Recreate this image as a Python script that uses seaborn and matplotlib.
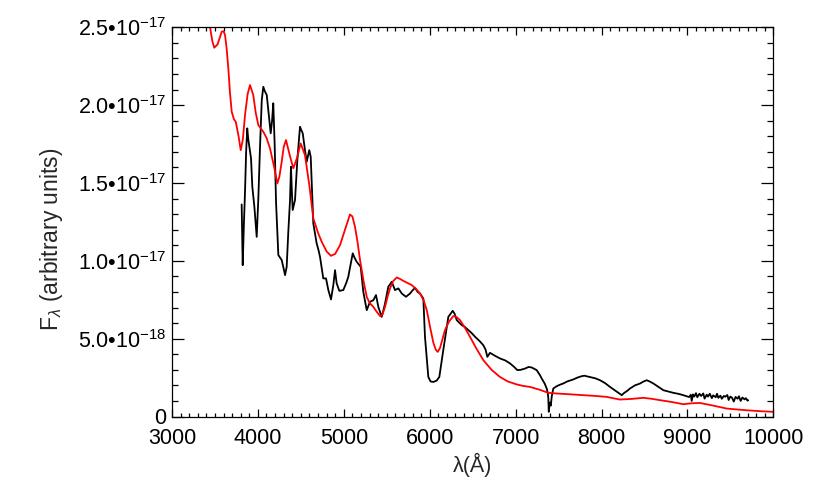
import numpy as np
import matplotlib
matplotlib.use("Agg")
import matplotlib.pyplot as plt
import seaborn as sns
from matplotlib.ticker import MultipleLocator, FixedLocator

# ---------------- data (flux in units of 1e-17) ----------------
model_wave = [3000, 3060, 3100, 3130, 3170, 3220, 3300, 3380, 3443, 3470, 3492, 3530, 3560, 3579,
              3600, 3617, 3635, 3655, 3675, 3695, 3720, 3742, 3775, 3800, 3825, 3850, 3880, 3908, 3946,
              3975, 4005, 4063, 4100, 4141, 4190, 4226, 4250, 4277, 4300, 4327, 4370, 4412, 4455, 4498,
              4548, 4600, 4645, 4700, 4743, 4800, 4851, 4900, 4956, 5020, 5072, 5100, 5130, 5160,
              5189, 5230, 5267, 5300, 5344, 5380, 5422, 5450, 5480, 5510, 5538, 5575, 5616,
              5650, 5694, 5740, 5791, 5840, 5888, 5930, 5966, 6004, 6042, 6070, 6093, 6120,
              6150, 6178, 6225, 6275, 6310, 6353, 6410, 6469, 6540, 6624, 6720, 6818, 6910,
              7013, 7090, 7168, 7280, 7381, 7500, 7650, 7788, 7930, 8061, 8140, 8215, 8350,
              8487, 8580, 8681, 8820, 8952, 9050, 9147, 9300, 9458, 9580, 9690, 9850, 10000]
model_flux = [2.62, 2.55, 2.52, 2.50, 2.52, 2.57, 2.63, 2.62, 2.50, 2.41, 2.369, 2.39, 2.44, 2.472,
              2.475, 2.451, 2.37, 2.24, 2.08, 1.958, 1.91, 1.893, 1.80, 1.711, 1.78, 1.936, 2.07, 2.129,
              2.065, 1.95, 1.872, 1.829, 1.79, 1.722, 1.60, 1.497, 1.54, 1.636, 1.73, 1.776, 1.68, 1.594,
              1.66, 1.754, 1.679, 1.48, 1.272, 1.18, 1.122, 1.06, 1.032, 1.045, 1.101, 1.21, 1.298, 1.285,
              1.219, 1.12, 1.005, 0.87, 0.769, 0.73, 0.704, 0.675, 0.645, 0.655, 0.704, 0.77, 0.823, 0.87,
              0.893, 0.885, 0.871, 0.858, 0.844, 0.82, 0.790, 0.745, 0.683, 0.576, 0.475, 0.43, 0.415,
              0.44, 0.50, 0.555, 0.61, 0.645, 0.640, 0.619, 0.57, 0.512, 0.44, 0.362, 0.30, 0.254, 0.225,
              0.206, 0.196, 0.190, 0.172, 0.152, 0.147, 0.142, 0.137, 0.132, 0.126, 0.117, 0.109, 0.113,
              0.120, 0.114, 0.105, 0.093, 0.079, 0.085, 0.087, 0.070, 0.051, 0.045, 0.040, 0.034, 0.030]

obs_wave = [3811, 3817, 3823, 3836, 3850, 3863, 3876, 3888, 3900, 3920, 3935, 3959, 3972, 3986,
            4005, 4024, 4045, 4063, 4080, 4103, 4125, 4149, 4165, 4179, 4195, 4211, 4238, 4258,
            4277, 4300, 4316, 4335, 4354, 4374, 4385, 4395, 4405, 4420, 4432, 4459, 4490, 4505,
            4522, 4548, 4568, 4585, 4598, 4615, 4630, 4645, 4684, 4705, 4723, 4761, 4793, 4820,
            4851, 4865, 4878, 4898, 4917, 4948, 4994, 5030, 5052, 5080, 5104, 5125, 5150, 5197,
            5227, 5267, 5305, 5344, 5375, 5402, 5441, 5460, 5480, 5518, 5558, 5596, 5635, 5675,
            5724, 5771, 5800, 5829, 5860, 5887, 5926, 5945, 5984, 6010, 6042, 6080, 6112, 6158,
            6217, 6268, 6290, 6315, 6373, 6410, 6450, 6490, 6528, 6580, 6624, 6650, 6671, 6702,
            6760, 6818, 6880, 6935, 6980, 7020, 7060, 7110, 7150, 7187, 7245, 7284, 7304, 7340,
            7362, 7375, 7381, 7386, 7392, 7400, 7410, 7420, 7439, 7480, 7520, 7555, 7600, 7640,
            7672, 7720, 7770, 7800, 7830, 7886, 7930, 7983, 8040, 8099, 8150, 8200, 8236, 8260,
            8300, 8332, 8390, 8449, 8490, 8527, 8560, 8604, 8650, 8720, 8780, 8836, 8900, 8952,
            8990, 9020, 9040, 9050, 9065, 9080, 9100, 9115, 9140, 9160, 9185, 9200, 9225, 9240,
            9260, 9285, 9300, 9330, 9345, 9360, 9385, 9400, 9425, 9440, 9465, 9480, 9500, 9520,
            9540, 9560, 9585, 9600, 9620, 9640, 9665, 9680, 9700, 9708]
obs_flux = [1.362, 1.15, 0.972, 1.22, 1.443, 1.70, 1.851, 1.78, 1.733, 1.658, 1.476, 1.347, 1.25, 1.154,
            1.40, 1.722, 2.033, 2.118, 2.09, 2.065, 1.95, 1.819, 1.90, 2.012, 1.75, 1.379, 1.037, 1.02,
            1.005, 0.95, 0.908, 0.961, 1.186, 1.390, 1.604, 1.45, 1.326, 1.36, 1.390, 1.647, 1.861, 1.84,
            1.819, 1.711, 1.636, 1.68, 1.711, 1.668, 1.45, 1.240, 1.112, 1.07, 1.026, 0.887, 0.887, 0.812,
            0.752, 0.80, 0.844, 0.940, 0.855, 0.807, 0.812, 0.86, 0.897, 0.98, 1.048, 1.02, 0.994, 0.961,
            0.801, 0.683, 0.737, 0.747, 0.780, 0.704, 0.640, 0.68, 0.726, 0.833, 0.865, 0.812, 0.823, 0.790,
            0.769, 0.790, 0.81, 0.826, 0.80, 0.790, 0.758, 0.512, 0.254, 0.225, 0.222, 0.23, 0.254, 0.426,
            0.640, 0.679, 0.66, 0.619, 0.587, 0.575, 0.555, 0.535, 0.512, 0.485, 0.458, 0.43, 0.383, 0.409,
            0.39, 0.373, 0.36, 0.341, 0.32, 0.298, 0.30, 0.308, 0.318, 0.315, 0.298, 0.265, 0.244, 0.21,
            0.180, 0.15, 0.116, 0.03, 0.06, 0.09, 0.07, 0.126, 0.180, 0.195, 0.205, 0.212, 0.225, 0.232,
            0.238, 0.250, 0.259, 0.262, 0.258, 0.251, 0.245, 0.233, 0.215, 0.190, 0.170, 0.150, 0.137, 0.150,
            0.165, 0.180, 0.200, 0.212, 0.225, 0.233, 0.225, 0.212, 0.195, 0.169, 0.160, 0.152, 0.145, 0.137,
            0.130, 0.125, 0.140, 0.100, 0.142, 0.128, 0.150, 0.124, 0.146, 0.132, 0.148, 0.115, 0.140, 0.128,
            0.146, 0.118, 0.136, 0.124, 0.146, 0.120, 0.134, 0.114, 0.132, 0.127, 0.138, 0.106, 0.128, 0.120,
            0.096, 0.126, 0.114, 0.130, 0.100, 0.122, 0.110, 0.118, 0.102, 0.104]

ytick_values = [0, 0.5, 1.0, 1.5, 2.0, 2.5]
ytick_labels = ['0', '5.0•10$^{-18}$', '1.0•10$^{-17}$', '1.5•10$^{-17}$',
                '2.0•10$^{-17}$', '2.5•10$^{-17}$']
xtick_values = [3000, 4000, 5000, 6000, 7000, 8000, 9000, 10000]
UNIT = 1e-17

# ---------------- style ----------------
sns.set_style("ticks")
plt.rcParams['font.family'] = ['Liberation Sans', 'DejaVu Sans']
plt.rcParams['mathtext.fontset'] = 'custom'
plt.rcParams['mathtext.rm'] = 'Liberation Sans'
plt.rcParams['mathtext.it'] = 'Liberation Sans:italic'
plt.rcParams['mathtext.bf'] = 'Liberation Sans:bold'

fig = plt.figure(figsize=(8.15, 4.98), dpi=100)
ax = fig.add_axes([172 / 815, 1 - 416.5 / 498, (773.3 - 172) / 815, (416.5 - 27.3) / 498])

mw = np.array(model_wave)
mf = np.array(model_flux) * UNIT
ow = np.array(obs_wave)
of = np.array(obs_flux) * UNIT

sns.lineplot(x=ow, y=of, ax=ax, color='black', linewidth=1.3, estimator=None, sort=False)
sns.lineplot(x=mw, y=mf, ax=ax, color='#ff0000', linewidth=1.3, estimator=None, sort=False)

ax.set_xlim(3000, 10000)
ax.set_ylim(0, 2.5 * UNIT)

ax.xaxis.set_major_locator(FixedLocator(xtick_values))
ax.xaxis.set_minor_locator(MultipleLocator(100))
ax.yaxis.set_major_locator(FixedLocator([v * UNIT for v in ytick_values]))
ax.yaxis.set_minor_locator(MultipleLocator(0.1 * UNIT))
ax.set_yticklabels(ytick_labels)
ax.set_xticklabels([str(v) for v in xtick_values])

ax.tick_params(axis='both', which='both', direction='in', top=True, right=True,
               labelsize=15.5, colors='black', width=0.9)
ax.tick_params(axis='x', which='major', length=5.6, pad=8)
ax.tick_params(axis='x', which='minor', length=2.8)
ax.tick_params(axis='y', which='major', length=8.6, pad=4)
ax.tick_params(axis='y', which='minor', length=4.3)
for s in ax.spines.values():
    s.set_linewidth(0.9)
    s.set_color('black')

ax.set_xlabel('λ(Å)', fontsize=15.5, labelpad=3)
ax.set_ylabel('F$_{\\lambda}$ (arbitrary units)', fontsize=16.5)
ax.yaxis.set_label_coords(-0.178, 0.455)

fig.savefig('out.png', dpi=100)
